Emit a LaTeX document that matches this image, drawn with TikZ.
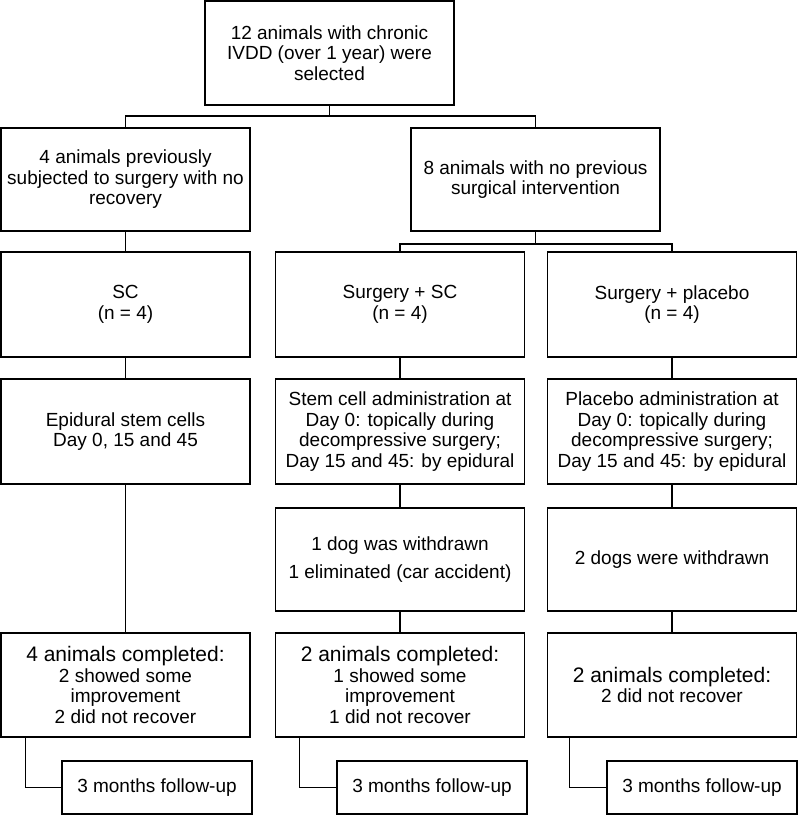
\documentclass[tikz,border=0pt]{standalone}
\usepackage{fontspec}
\setmainfont{Liberation Sans}
\usetikzlibrary{calc}
\begin{document}
\begin{tikzpicture}[x=1pt,y=-1pt,
  box/.style={draw=black, line width=1.5pt, fill=white, align=center, inner sep=2pt,
    font=\fontsize{19}{20.5}\selectfont, minimum width=249pt},
  conn/.style={draw=black, line width=1.5pt}]
\useasboundingbox (0,0) rectangle (800,815);
% row 1
\node[box, minimum height=104pt] (top) at (329.5,53) {12 animals with chronic\\IVDD (over 1 year) were\\selected};
% row 2
\node[box, minimum height=103pt] (A) at (125.5,179.5) {4 animals previously\\subjected to surgery with no\\recovery};
\node[box, minimum height=103pt] (B) at (535.5,179.5) {8 animals with no previous\\surgical intervention};
% row 3
\node[box, minimum height=105pt] (sc) at (125.5,304.5) {SC\\(n = 4)};
\node[box, minimum height=105pt] (ssc) at (400,304.5) {Surgery + SC\\(n = 4)};
\node[box, minimum height=105pt] (sp) at (672,304.5) {Surgery + placebo\\(n = 4)};
% row 4
\node[box, minimum height=105pt] (epi) at (125.5,431.5) {Epidural stem cells\\Day 0, 15 and 45};
\node[box, minimum height=105pt] (stem) at (400,431.5) {Stem cell administration at\\Day 0: topically during\\decompressive surgery;\\Day 15 and 45: by epidural};
\node[box, minimum height=105pt] (plac) at (672,431.5) {Placebo administration at\\Day 0: topically during\\decompressive surgery;\\Day 15 and 45: by epidural};
% row 5
\node[box, minimum height=103pt] (wd1) at (400,559.5) {1 dog was withdrawn\\[7.5pt]1 eliminated (car accident)};
\node[box, minimum height=103pt] (wd2) at (672,559.5) {2 dogs were withdrawn};
% row 6
\node[box, minimum height=104pt] (c1) at (125.5,685) {{\fontsize{21}{22}\selectfont 4 animals completed:}\\2 showed some\\improvement\\2 did not recover};
\node[box, minimum height=104pt] (c2) at (400,685) {{\fontsize{21}{22}\selectfont 2 animals completed:}\\1 showed some\\improvement\\1 did not recover};
\node[box, minimum height=104pt] (c3) at (672,685) {{\fontsize{21}{22}\selectfont 2 animals completed:}\\2 did not recover};
% follow-up
\node[box, minimum width=190pt, minimum height=53pt] (f1) at (157,787.5) {3 months follow-up};
\node[box, minimum width=190pt, minimum height=53pt] (f2) at (432,787.5) {3 months follow-up};
\node[box, minimum width=190pt, minimum height=53pt] (f3) at (702,787.5) {3 months follow-up};
% connectors
\coordinate (j1) at ($(top.south)+(0,10)$);
\draw[conn] (top.south) -- (j1);
\draw[conn] (j1) -| (A.north);
\draw[conn] (j1) -| (B.north);
\draw[conn] (A.south) -- (sc.north);
\coordinate (j2) at ($(B.south)+(0,12)$);
\draw[conn] (B.south) -- (j2);
\draw[conn] (j2) -| (ssc.north);
\draw[conn] (j2) -| (sp.north);
\draw[conn] (sc.south) -- (epi.north);
\draw[conn] (epi.south) -- (c1.north);
\draw[conn] (ssc.south) -- (stem.north);
\draw[conn] (stem.south) -- (wd1.north);
\draw[conn] (wd1.south) -- (c2.north);
\draw[conn] (sp.south) -- (plac.north);
\draw[conn] (plac.south) -- (wd2.north);
\draw[conn] (wd2.south) -- (c3.north);
\draw[conn] ($(c1.south west)+(25,0)$) |- (f1.west);
\draw[conn] ($(c2.south west)+(24.5,0)$) |- (f2.west);
\draw[conn] ($(c3.south west)+(22.5,0)$) |- (f3.west);
\end{tikzpicture}
\end{document}
